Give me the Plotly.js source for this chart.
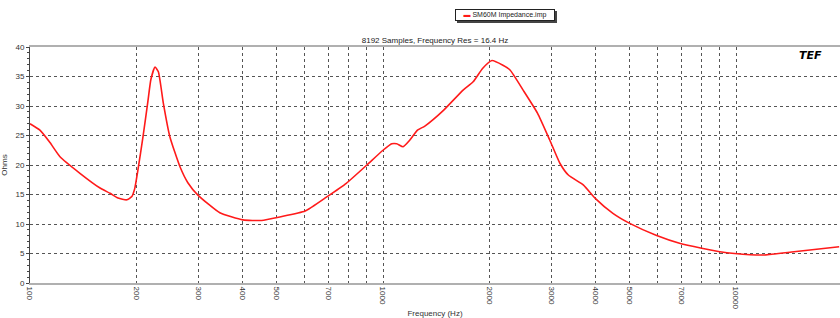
<!DOCTYPE html>
<html>
<head>
<meta charset="utf-8">
<script src="https://cdn.plot.ly/plotly-3.0.1.min.js"></script>
<style>html,body{margin:0;padding:0;background:#fff;}#chart{width:840px;height:318px;}</style>
</head>
<body>
<div id="chart"></div>
<script>
const freqHz = [100,106.7,113.9,121.6,138.5,157.9,168.6,177.6,188,194,198,202,209,216,220,226,231,238.6,249,266,280,299,345,401,453,510,602,693,787,900,1000,1059,1094,1140,1190,1252,1314,1486,1686,1800,1917,2036,2186,2290,2494,2739,2969,3170,3350,3698,4000,4480,5000,5935,6955,7996,9000,9905,11950,14600,19600];
const ohms   = [27.0,25.9,23.8,21.4,18.6,16.1,15.2,14.4,14.1,14.6,16.0,19.0,24.8,31.0,34.5,36.6,35.8,30.5,24.8,19.7,17.0,14.9,11.9,10.7,10.6,11.2,12.2,14.6,16.9,20.0,22.5,23.6,23.6,23.1,24.2,25.9,26.6,29.3,32.7,34.1,36.4,37.7,36.9,36.1,32.7,28.8,24.2,20.3,18.3,16.6,14.3,11.8,10.1,8.1,6.7,5.9,5.3,5.0,4.75,5.3,6.15];
const gridVals = [100,200,300,400,500,600,700,800,900,1000,2000,3000,4000,5000,6000,7000,8000,9000,10000,20000];
const gridText = ['100','200','300','400','500','','700','','','1000','2000','3000','4000','5000','','7000','','','10000','20000'];
const seriesName = 'SM60M Impedance.imp';
const chartTitle = '8192 Samples, Frequency Res = 16.4 Hz';
const lineColor = '#ff1a1a';

const fam = 'Liberation Sans, Arial, sans-serif';
const font = {family: fam, size: 8, color: '#333'};

Plotly.newPlot('chart', [{
  x: freqHz, y: ohms, type: 'scatter', mode: 'lines', name: seriesName,
  line: {color: lineColor, width: 1.6, shape: 'spline', smoothing: 0.5},
  showlegend: false
}], {
  width: 840, height: 318,
  margin: {l: 30, r: 0, t: 47, b: 35, pad: 0},
  paper_bgcolor: '#fff', plot_bgcolor: '#fff',
  font: font,
  title: {text: chartTitle, font: {family: fam, size: 8, color: '#222'},
          xref: 'paper', x: 0.5, xanchor: 'center', yref: 'container', y: 0.874, yanchor: 'middle'},
  xaxis: {
    type: 'log', range: [2, 4.2946],
    tickmode: 'array', tickvals: gridVals, ticktext: gridText, tickangle: 90,
    ticks: '', showgrid: true, gridcolor: '#555', griddash: 'dot', gridwidth: 1,
    showline: true, linecolor: '#b0b0b0', linewidth: 2, mirror: true,
    zeroline: false, tickfont: font,
    title: {text: 'Frequency (Hz)', font: font, standoff: 5}
  },
  yaxis: {
    range: [0, 40], dtick: 5, tick0: 0,
    ticks: 'outside', ticklen: 3, tickcolor: '#444',
    minor: {dtick: 1, ticks: 'outside', ticklen: 2, tickcolor: '#444', showgrid: false},
    showgrid: true, gridcolor: '#555', griddash: 'dot', gridwidth: 1,
    showline: true, linecolor: '#444', linewidth: 1,
    zeroline: false, tickfont: font,
    title: {text: 'Ohms', font: font, standoff: 7}
  },
  shapes: [{
    type: 'rect', xref: 'paper', yref: 'paper',
    x0: (457 - 30) / 810, x1: (557 - 30) / 810,
    y0: (283 - 23) / 236, y1: (283 - 11) / 236,
    fillcolor: '#444', line: {width: 0}, layer: 'above'
  }],
  annotations: [{
    text: '<span style="color:' + lineColor + '">▬</span> ' + seriesName,
    xref: 'paper', yref: 'paper', x: (505 - 30) / 810, y: (283 - 15) / 236,
    xanchor: 'center', yanchor: 'middle', showarrow: false, width: 96,
    bgcolor: '#fff', bordercolor: '#222', borderwidth: 1, borderpad: 1,
    font: {family: fam, size: 7, color: '#222'}
  }, {
    text: '<b><i>TEF</i></b>', xref: 'paper', yref: 'paper',
    x: (810 - 30) / 810, y: (283 - 55) / 236, xanchor: 'center', yanchor: 'middle',
    showarrow: false, font: {family: 'DejaVu Sans, sans-serif', size: 11, color: '#000'}
  }]
}, {staticPlot: true});
</script>
</body>
</html>
